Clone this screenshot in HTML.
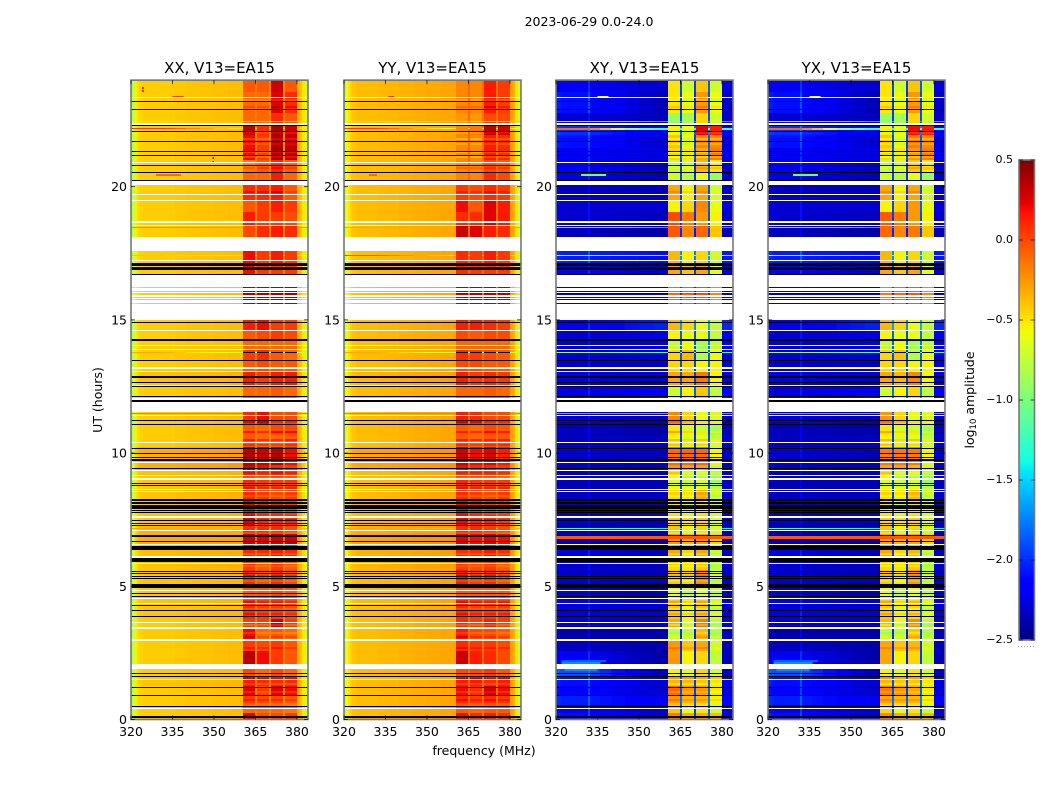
<!DOCTYPE html>
<html lang="en">
<head>
<meta charset="utf-8">
<title>2023-06-29 0.0-24.0</title>
<style>
html,body{margin:0;padding:0;background:#fff;}
svg{display:block;}
text{font-family:"DejaVu Sans","Liberation Sans",sans-serif;fill:#000;}
</style>
</head>
<body>
<svg id="figure" xmlns="http://www.w3.org/2000/svg" width="1050" height="800" viewBox="0 0 1050 800">
<rect x="0" y="0" width="1050" height="800" fill="#fff"/>
<text x="589" y="26" font-size="12.5" text-anchor="middle">2023-06-29 0.0-24.0</text>
<text x="0" y="0" font-size="12.5" text-anchor="middle" transform="translate(102,400) rotate(-90)">UT (hours)</text>
<text x="484" y="755" font-size="12.5" text-anchor="middle">frequency (MHz)</text>
<text x="0" y="0" font-size="12.5" text-anchor="middle" transform="translate(974,400) rotate(-90)">log<tspan font-size="8.5" dy="2">10</tspan><tspan dy="-2"> amplitude</tspan></text>
<g id="panels"></g>
<g id="colorbar"></g>
</svg>
<script>
// ---- axis data ----
const xTickValues = [320, 335, 350, 365, 380];
const yTickValues = [0, 5, 10, 15, 20];
const colorbarTickValues = [0.5, 0, -0.5, -1, -1.5, -2, -2.5];
const colorbarTickLabels = ["0.5", "0.0", "\u22120.5", "\u22121.0", "\u22121.5", "\u22122.0", "\u22122.5"];
const panelTitles = ["XX, V13=EA15", "YY, V13=EA15", "XY, V13=EA15", "YX, V13=EA15"];

// ---- frequency columns (MHz); slot 0 = background, 2-5 = receiver bands ----
const freqEdges = [320,320.7,321.4,322.2,323,324.5,331.5,332.2,336,340,345,350,355,360.6,365,365.6,369.9,370.6,375,375.7,380,381,382,383,384];
const colSlots = [0,0,0,0,0,0,0,0,0,0,0,0,0,2,0,3,0,4,0,5,0,0,0,0];
const colRightWeight = [0,0,0,0,0,0,0,0.1,0.25,0.45,0.65,0.85,1,0,1,0,1,0,1,0,1,1,1,1];

// ---- spectrum shape per polarisation (log10 amplitude) ----
const xxSpectrum = [-0.82,-0.65,-0.53,-0.47,-0.44,-0.42,-0.42,-0.42,-0.41,-0.4,-0.39,-0.38,-0.37,0,-0.15,0,-0.18,0,-0.18,0,-0.33,-0.38,-0.5,-0.74];
const yySpectrum = [-0.76,-0.6,-0.5,-0.44,-0.4,-0.37,-0.37,-0.36,-0.35,-0.34,-0.32,-0.31,-0.3,0,-0.1,0,-0.12,0,-0.12,0,-0.28,-0.33,-0.48,-0.7];
const xySpectrum = [-2.34,-2.34,-2.37,-2.39,-2.39,-2.39,-2.18,-2.39,-2.39,-2.39,-2.39,-2.39,-2.39,0,-2,0,-2.05,0,-1.95,0,-2.36,-2.36,-2.36,-2.36];
const yxSpectrum = [-2.34,-2.34,-2.37,-2.39,-2.39,-2.39,-2.18,-2.39,-2.39,-2.39,-2.39,-2.39,-2.39,0,-2,0,-2.05,0,-1.95,0,-2.36,-2.36,-2.36,-2.36];

// ---- time bins (UT hours) ----
const timeEdges = [0,0.26,0.53,0.9,1.24,1.65,1.99,2.59,2.97,3.42,3.79,4.47,5.03,5.6,6.08,6.54,6.99,7.29,7.66,8.23,8.6,8.98,9.35,9.54,10.22,10.67,11.08,11.91,12.54,13.03,13.48,13.86,14.23,14.61,14.99,16.23,16.71,17.13,17.58,18.1,18.55,19.04,19.49,20.06,20.54,21,21.45,21.93,22.31,22.76,23.55,24];

// ---- per-bin levels: [bgLeft, bgRight, band1, band2, band3, band4] ----
const xxLevels = [
[0,0,.25,0,0,.05],[0,0,-.1,-.1,-.1,-.15],[0,0,.05,0,0,-.05],[0,0,.25,.05,.25,.2],[.02,.02,.15,.1,.1,.1],[0,0,0,-.1,0,-.1],[0,0,.35,.2,.05,-.05],[0,0,.05,0,.05,-.05],[0,0,.2,-.1,-.05,-.1],[0,0,.05,.05,.3,.05],
[.02,.02,.1,.05,.05,0],[.02,.02,-.05,-.05,0,-.05],[.02,.02,.1,0,.1,0],[.03,.03,.05,-.05,.05,-.05],[.05,.05,.1,.1,.15,.1],[.1,.08,.3,.25,.3,.3],[.08,.05,.1,.1,.1,0],[.03,.03,.25,.1,.1,.1],[.03,.03,.2,.1,.1,.05],[.03,.03,.1,.05,0,.05],
[.02,.02,.1,.05,.05,.05],[.03,.03,.1,.05,.1,.05],[.1,.1,.3,.2,.1,.05],[.1,.1,.35,.3,.35,.2],[0,0,-.05,-.1,-.1,-.05],[0,0,-.05,-.1,0,0],[0,0,.1,.2,0,0],[0,0,-.1,-.1,-.05,-.1],[.03,.03,.15,.05,.15,.15],[0,0,-.05,0,-.05,-.05],
[0,0,.05,.1,-.05,-.1],[0,0,-.1,-.1,-.1,-.1],[0,0,-.05,0,.05,0],[0,0,.15,.2,.05,.05],[0,0,.38,.38,.38,.38],[0,0,.1,.1,.1,.1],[0,0,.2,.05,.05,.05],[0,0,.2,.05,.15,.05],[0,0,0,.05,.15,.05],[0,0,0,.1,.15,.1],
[0,0,.15,.05,.05,0],[0,0,-.05,.05,.15,.05],[0,0,.1,.1,.15,-.05],[0,0,-.1,-.1,.15,-.1],[0,0,-.15,-.05,.1,-.05],[0,0,.2,.05,.4,.35],[0,0,.2,.05,.4,.35],[0,0,.35,.1,.4,.3],[0,0,-.1,-.1,.1,-.05],[0,0,-.1,-.1,.25,.1],[0,0,-.05,-.05,.3,-.05]
];
const yyLevels = [
[0,0,.2,.1,.15,.1],[0,0,-.05,-.1,-.05,-.05],[0,0,.1,.05,.1,.05],[0,0,.2,.1,.3,.2],[0,0,.15,.15,.1,.15],[0,0,0,0,.05,-.05],[0,0,.3,.15,.1,0],[0,0,.1,.05,.05,0],[0,0,.15,0,0,-.05],[0,0,.1,.05,.15,.05],
[0,0,.1,.05,.05,.05],[0,0,-.05,-.05,-.05,-.05],[0,0,.15,.05,.1,0],[.02,.02,.05,0,.05,-.05],[.03,.03,.1,.1,.15,.1],[.08,.06,.25,.2,.25,.2],[.05,.03,.1,.1,.05,0],[.02,.02,.2,.1,.1,.05],[.02,.02,.2,.1,.05,.05],[0,0,.1,.05,0,.05],
[0,0,.1,.05,.05,.05],[0,0,.05,.05,.05,0],[.06,.05,.2,.1,.1,.05],[.08,.06,.3,.2,.25,.15],[0,0,-.05,-.1,-.05,-.05],[0,0,-.05,-.1,0,-.05],[0,0,.15,.1,0,0],[0,0,-.1,-.1,-.05,-.1],[.02,.02,.15,.05,.1,.05],[0,0,0,0,-.05,-.05],
[0,0,.1,.05,0,-.05],[0,0,-.1,-.1,-.1,-.1],[0,0,0,-.05,0,0],[0,0,.15,.15,.1,.05],[0,0,.35,.35,.35,.35],[0,0,.1,.1,.1,.1],[0,0,.1,.05,.05,.05],[0,0,.1,.05,.15,.05],[0,0,.1,.05,.15,.05],[0,0,.3,.25,.15,.1],
[0,0,.1,.1,.25,.15],[0,0,.2,-.05,.25,.15],[0,0,.05,0,.1,.05],[0,0,-.2,-.2,.1,0],[0,0,-.2,-.2,0,-.05],[0,0,-.2,-.2,.15,.1],[0,0,-.2,-.2,.15,.1],[0,0,-.2,-.15,.35,.3],[0,0,-.25,-.25,0,0],[0,0,-.2,-.2,.15,.05],[0,0,-.2,-.2,.15,.05]
];
const xyLevels = [
[.3,.1,-.15,-.3,-.3,-.35],[.25,.1,-.4,-.6,-.5,-.7],[.35,.2,-.25,-.35,-.35,-.55],[.25,.1,-.1,-.25,-.25,-.5],[.3,.1,-.35,-.35,-.4,-.5],[.5,.05,-.55,-.6,-.45,-.65],[.2,0,-.25,-.55,-.45,-.75],[.05,0,-.25,-.4,-.3,-.7],[0,0,-.75,-.75,-.35,-.8],[.1,.1,-.3,-.6,-.15,-.75],
[.15,.1,-.4,-.55,-.4,-.7],[.1,.05,-.6,-.75,-.6,-.75],[.1,.05,-.4,-.45,-.2,-.7],[.1,.05,-.45,-.5,-.4,-.75],[.15,.05,-.3,-.45,-.3,-.7],[.05,0,-.25,-.35,-.25,-.45],[0,0,-.4,-.55,-.45,-.65],[.1,.05,-.45,-.5,-.45,-.65],[.05,.05,-.5,-.7,-.5,-.7],[.05,.05,-.45,-.5,-.3,-.7],
[.05,.05,-.65,-.7,-.65,-.85],[.05,.05,-.5,-.7,-.7,-.8],[.1,.05,-.25,-.3,-.3,-.75],[.1,.05,-.1,-.1,-.1,-.55],[.05,.05,-.55,-.65,-.6,-.75],[.05,0,-.5,-.65,-.7,-.85],[.1,.05,-.2,-.45,-.6,-.65],[.15,.2,-.7,-.55,-.4,-.75],[.15,.1,-.3,-.3,-.15,-.55],[.1,.1,-.45,-.45,-.55,-.55],
[.1,.1,-.45,-.35,-.8,-.6],[.1,.15,-.75,-.6,-.85,-.75],[.1,.15,-.55,-.6,-.6,-.75],[.2,.35,-.35,-.45,-.6,-.75],[.05,.05,-.1,-.05,0,-.2],[.05,.05,-.3,-.3,-.3,-.3],[.2,.1,-.3,-.4,-.3,-.6],[.35,.3,-.35,-.55,-.45,-.7],[.2,.1,-.3,-.3,-.3,-.3],[.05,0,-.05,-.2,-.1,-.4],
[.1,.05,0,-.15,-.25,-.55],[.1,.1,-.55,-.45,-.2,-.6],[.05,.05,-.3,-.55,-.3,-.7],[.15,.05,-.7,-.8,-.6,-.9],[.2,.05,-.75,-.7,-.35,-.5],[.2,.15,-.45,-.5,-.3,-.15],[.3,.1,-.4,-.6,-.2,-.2],[.4,.2,-.55,-.6,.25,.15],[.1,.05,-.9,-.85,-.45,-.7],[.3,.05,-.5,-.6,-.25,-.6],[.2,.1,-.5,-.7,-.4,-.7]
];
const yxLevels = [
[.3,.1,-.2,-.3,-.35,-.35],[.25,.1,-.45,-.6,-.5,-.7],[.35,.2,-.3,-.35,-.35,-.55],[.25,.1,-.15,-.25,-.3,-.5],[.3,.1,-.35,-.4,-.4,-.5],[.5,.05,-.55,-.6,-.5,-.65],[.2,0,-.3,-.55,-.45,-.75],[.05,0,-.3,-.4,-.35,-.7],[0,0,-.75,-.75,-.4,-.8],[.1,.1,-.35,-.6,-.2,-.75],
[.15,.1,-.4,-.55,-.45,-.7],[.1,.05,-.6,-.75,-.6,-.75],[.1,.05,-.4,-.5,-.25,-.7],[.1,.05,-.45,-.5,-.4,-.75],[.15,.05,-.3,-.45,-.35,-.7],[.05,0,-.3,-.35,-.3,-.45],[0,0,-.4,-.55,-.45,-.65],[.1,.05,-.45,-.5,-.45,-.65],[.05,.05,-.5,-.7,-.5,-.7],[.05,.05,-.45,-.5,-.35,-.7],
[.05,.05,-.65,-.7,-.65,-.85],[.05,.05,-.5,-.7,-.7,-.8],[.1,.05,-.3,-.3,-.35,-.75],[.1,.05,-.15,-.15,-.15,-.55],[.05,.05,-.55,-.65,-.6,-.75],[.05,0,-.5,-.65,-.7,-.85],[.1,.05,-.25,-.45,-.6,-.65],[.15,.2,-.7,-.55,-.45,-.75],[.15,.1,-.3,-.35,-.2,-.55],[.1,.1,-.45,-.45,-.55,-.55],
[.1,.1,-.45,-.4,-.8,-.6],[.1,.15,-.75,-.6,-.85,-.75],[.1,.15,-.55,-.6,-.6,-.75],[.2,.35,-.35,-.45,-.6,-.75],[.05,.05,-.15,-.1,-.05,-.2],[.05,.05,-.3,-.3,-.3,-.3],[.2,.1,-.3,-.4,-.3,-.6],[.35,.3,-.35,-.55,-.45,-.7],[.2,.1,-.3,-.3,-.3,-.3],[.05,0,-.1,-.2,-.15,-.4],
[.1,.05,-.05,-.15,-.25,-.55],[.1,.1,-.55,-.45,-.25,-.6],[.05,.05,-.3,-.55,-.3,-.7],[.15,.05,-.7,-.8,-.6,-.9],[.2,.05,-.75,-.7,-.4,-.5],[.2,.15,-.45,-.5,-.25,-.15],[.3,.1,-.4,-.6,-.15,-.2],[.4,.2,-.55,-.6,.2,.15],[.1,.05,-.9,-.85,-.45,-.7],[.3,.05,-.5,-.6,-.25,-.6],[.2,.1,-.5,-.7,-.4,-.7]
];

// ---- fine stripes inside the receiver bands: [hour, level change] ----
const bandStripes = [[0.6,-.12],[0.75,.1],[1.05,-.1],[1.35,-.12],[1.55,.1],[2.7,.1],[3.1,.1],[3.25,-.1],[3.55,-.15],[3.95,.1],[4.15,-.1],[4.4,.1],[5.2,-.1],[5.4,.1],[5.75,-.1],[6.2,-.12],[7,-.1],[7.5,.1],[8.4,-.1],[8.7,.1],[9.1,-.1],[9.25,.1],[10.3,.15],[10.5,.2],[10.8,.2],[11.15,.12],[19.8,.1],[20.7,.1],[20.9,-.1],[21.1,-.15],[21.3,-.15],[21.6,-.12],[21.8,-.15],[22,-.1],[23,.1],[23.25,-.1]];

// ---- flagged integrations (UT hours): white = missing, black = flagged ----
const missingRows = [23.36,20.92,19.71,19.49,18.68,18.55,17.24,14.6,14.04,13.9,13.19,13.06,12.54,10.41,9.65,9.35,9.16,9.03,8.64,8.55,7.1,6.56,6.1,5.85,4.85,4.53,4.35,3.63,3.44,2.99,2.05,2,1.93,1.49,0.42];
const missingRanges = [[22.31,22.4],[20.06,20.22],[17.58,18.12],[16.24,16.69],[16.08,16.19],[16,16.03],[15.92,15.95],[15.86,15.88],[15.78,15.81],[15.64,15.74],[14.98,15.59],[12.01,12.06],[11.55,11.91],[11.38,11.44],[7.57,7.64]];
const flaggedRows = [23.2,22.9,22.29,22.08,21.7,21.32,21.17,20.8,20.53,20.24,16.71,14.9,14.28,14.23,13.78,13.47,12.89,12.85,12.66,12.51,11.22,11.07,10.17,9.98,9.84,9.77,9.72,9.44,8.85,8.8,8.16,8.12,7.85,7.77,7.47,7.35,7.29,6.67,5.57,5.49,5.37,5.3,4.72,4.63,4.27,4.09,3.88,1.72,1.63,1.21,0.89,0.51];
const flaggedRanges = [[17.03,17.12],[16.89,16.98],[12.11,12.15],[11.92,11.98],[8.22,8.29],[7.92,8.04],[6.86,6.91],[6.37,6.51],[5.91,6.07],[4.93,5.07],[0.06,0.14]];

// ---- interference rows: [hour, bgLeft value, bgRight value, band value or null] ----
const xxRfiRows = [[22.48,-0.6,-1,-1.2],[22.22,0.05,-0.5,null],[18.47,-0.2,-0.25,null],[17.45,-0.4,-0.6,null],[13.81,-0.3,-0.7,null],[11.52,-0.15,-0.15,null],[7.2,-0.3,-0.35,null]];
const yyRfiRows = [[22.48,-0.5,-1,-1.1],[22.22,0.05,-0.6,null],[18.47,-0.3,-0.3,null],[17.45,0,-0.5,null],[13.81,-0.3,-0.7,null],[11.52,-0.15,-0.15,null],[7.2,-0.3,-0.35,null]];
const xyRfiRows = [[22.48,-0.7,-1.6,null],[22.22,-0.1,-1.2,null],[22.18,-0.1,-1.2,null],[18.47,-1,-1.6,null],[17.45,-0.6,-0.7,null],[13.81,-0.9,-1.2,null],[11.52,-1.5,-1.5,null],[7.2,-1.2,-1.4,null],[6.89,-0.05,-0.05,-0.05],[6.85,-0.05,-0.05,-0.05],[6.81,-0.05,-0.05,-0.05]];
const yxRfiRows = [[22.48,-0.7,-1.6,null],[22.22,-0.1,-1.2,null],[22.18,-0.1,-1.2,null],[18.47,-1,-1.6,null],[17.45,-0.6,-0.7,null],[13.81,-0.9,-1.2,null],[11.52,-1.5,-1.5,null],[7.2,-1.2,-1.4,null],[6.89,-0.05,-0.05,-0.05],[6.85,-0.05,-0.05,-0.05],[6.81,-0.05,-0.05,-0.05]];

// ---- short narrowband streaks: [freq start, freq end, hour, value] ----
const xxSpots = [[335,339,23.37,0.05],[329,338,20.43,-0.1],[324,324.7,23.7,0.1],[324,324.7,23.6,0.1],[349.5,350,21.1,0.3],[349.5,350,20.95,0.3]];
const yySpots = [[336,338,23.37,0.1],[329,332,20.43,-0.1]];
const xySpots = [[335,339,23.37,-0.6],[329,338,20.43,-1.1],[347,349,15.7,-1.5],[322,338,2.2,-1.85],[322,336,2.12,-1.7],[323,335,1.85,-1.7],[324,332,1.78,-1.9]];
const yxSpots = [[335,339,23.37,-0.6],[329,338,20.43,-1.1],[347,349,15.7,-1.5],[322,338,2.2,-1.85],[322,336,2.12,-1.7],[323,335,1.85,-1.7],[324,332,1.78,-1.9]];

// ---- scales ----
const colorMin = -2.5, colorMax = 0.5;
const yBottom = 719.5, yPerHour = 26.64;
const panelLefts = [131, 344, 556, 768];
const panelWidth = 177;
const pxPerMHz = panelWidth / 64;
const NS = "http://www.w3.org/2000/svg";

function yAxis(h) { return yBottom - h * yPerHour; }
function xAxis(left, f) { return left + (f - 320) * pxPerMHz; }
function seg(t, a, b, c, d) {
  if (t <= a) return b;
  if (t >= c) return d;
  return b + (d - b) * (t - a) / (c - a);
}
function jet(v) {
  const t = Math.max(0, Math.min(1, (v - colorMin) / (colorMax - colorMin)));
  let r, g, b;
  r = t < 0.89 ? seg(t, 0.35, 0, 0.66, 1) : seg(t, 0.89, 1, 1, 0.5);
  g = t < 0.375 ? seg(t, 0.125, 0, 0.375, 1) : (t < 0.64 ? 1 : seg(t, 0.64, 1, 0.91, 0));
  b = t < 0.11 ? seg(t, 0, 0.5, 0.11, 1) : (t < 0.34 ? 1 : seg(t, 0.34, 1, 0.65, 0));
  return "rgb(" + Math.round(r * 255) + "," + Math.round(g * 255) + "," + Math.round(b * 255) + ")";
}
function make(tag, parent, attrs) {
  const el = document.createElementNS(NS, tag);
  for (const k in attrs) el.setAttribute(k, attrs[k]);
  parent.appendChild(el);
  return el;
}
function band(parent, left, h0, h1, fill) {
  const y0 = Math.round(yAxis(h1)), y1 = Math.round(yAxis(h0));
  return make("rect", parent, {x: left, y: y0, width: panelWidth, height: Math.max(1, y1 - y0), fill: fill, "shape-rendering": "crispEdges"});
}
function binOf(h) {
  for (let t = 0; t < timeEdges.length - 1; t++) {
    if (h < timeEdges[t + 1]) return t;
  }
  return timeEdges.length - 2;
}
function cellValue(spectrum, level, c) {
  const slot = colSlots[c];
  if (slot > 0) return spectrum[c] + level[slot];
  const w = colRightWeight[c];
  return spectrum[c] + level[0] * (1 - w) + level[1] * w;
}

const panelSpectra = [xxSpectrum, yySpectrum, xySpectrum, yxSpectrum];
const panelLevels = [xxLevels, yyLevels, xyLevels, yxLevels];
const panelRfi = [xxRfiRows, yyRfiRows, xyRfiRows, yxRfiRows];
const panelSpots = [xxSpots, yySpots, xySpots, yxSpots];
const panelKeys = ["xx", "yy", "xy", "yx"];
const root = document.getElementById("panels");

panelKeys.forEach(function (key, p) {
  const left = panelLefts[p];
  const g = make("g", root, {});
  
  

  const spectrum = panelSpectra[p];
  const levels = panelLevels[p];
  for (let t = 0; t < timeEdges.length - 1; t++) {
    const yTop = Math.round(yAxis(timeEdges[t + 1]));
    const yBot = Math.round(yAxis(timeEdges[t]));
    for (let c = 0; c < freqEdges.length - 1; c++) {
      const x0 = Math.round(xAxis(left, freqEdges[c]));
      const x1 = Math.round(xAxis(left, freqEdges[c + 1]));
      const value = cellValue(spectrum, levels[t], c);
      const cell = make("rect", g, {x: x0, y: yTop, width: x1 - x0, height: yBot - yTop, fill: jet(value), "shape-rendering": "crispEdges"});
      
      
    }
  }

  bandStripes.forEach(function (st) {
    const level = levels[binOf(st[0])];
    for (let c = 0; c < freqEdges.length - 1; c++) {
      if (colSlots[c] === 0) continue;
      const x0 = Math.round(xAxis(left, freqEdges[c]));
      const x1 = Math.round(xAxis(left, freqEdges[c + 1]));
      const r = make("rect", g, {x: x0, y: Math.round(yAxis(st[0])) - 1, width: x1 - x0, height: 2, fill: jet(level[colSlots[c]] + st[1]), "shape-rendering": "crispEdges"});
      
      
    }
  });

  panelSpots[p].forEach(function (s) {
    const x0 = xAxis(left, s[0]);
    const r = make("rect", g, {x: x0, y: Math.round(yAxis(s[2]) - 0.8), width: Math.max(1.2, xAxis(left, s[1]) - x0), height: 2, fill: jet(s[3]), "shape-rendering": "crispEdges"});
    
    
  });

  missingRows.forEach(function (h) {
    const r = band(g, left, h - 0.025, h + 0.025, "#fff");
    
    
  });
  missingRanges.forEach(function (rng) {
    const r = band(g, left, rng[0], rng[1], "#fff");
    
    
  });
  flaggedRows.forEach(function (h) {
    const r = band(g, left, h - 0.015, h + 0.015, "#000");
    
    
  });
  flaggedRanges.forEach(function (rng) {
    const r = band(g, left, rng[0], rng[1], "#000");
    
    
  });

  panelRfi[p].forEach(function (row) {
    for (let c = 0; c < freqEdges.length - 1; c++) {
      let v;
      if (colSlots[c] > 0) {
        v = row[3];
      } else {
        v = row[1] * (1 - colRightWeight[c]) + row[2] * colRightWeight[c];
      }
      if (v === null) continue;
      const x0 = Math.round(xAxis(left, freqEdges[c]));
      const x1 = Math.round(xAxis(left, freqEdges[c + 1]));
      const r = make("rect", g, {x: x0, y: Math.round(yAxis(row[0])), width: x1 - x0, height: 1, fill: jet(v), "shape-rendering": "crispEdges"});
      
      
    }
  });

  // spines
  const spine = make("rect", g, {x: left, y: yAxis(24), width: panelWidth, height: yAxis(0) - yAxis(24), fill: "none", stroke: "#777", "stroke-width": 1.6});
  
  

  // x ticks and labels
  xTickValues.forEach(function (f) {
    const x = xAxis(left, f);
    const t1 = make("line", g, {x1: x, x2: x, y1: yAxis(0), y2: yAxis(0) - 4, stroke: "#000", "stroke-width": 0.7});
    
    
    const t2 = make("line", g, {x1: x, x2: x, y1: yAxis(24), y2: yAxis(24) + 4, stroke: "#000", "stroke-width": 0.7});
    
    
    const lab = make("text", g, {x: x, y: 736, "font-size": 12.5, "text-anchor": "middle"});
    lab.textContent = String(f);
    
    
  });

  // y ticks and labels
  yTickValues.forEach(function (h) {
    const y = yAxis(h);
    const t1 = make("line", g, {x1: left, x2: left + 4, y1: y, y2: y, stroke: "#000", "stroke-width": 0.7});
    
    
    const t2 = make("line", g, {x1: left + panelWidth, x2: left + panelWidth - 4, y1: y, y2: y, stroke: "#000", "stroke-width": 0.7});
    
    
    const lab = make("text", g, {x: left - 4, y: y + 4.5, "font-size": 12.5, "text-anchor": "end"});
    lab.textContent = String(h);
    
    
  });

  const title = make("text", g, {x: left + panelWidth / 2, y: 73, "font-size": 15, "text-anchor": "middle"});
  title.textContent = panelTitles[p];
  
  
});

// ---- colorbar ----
const cb = document.getElementById("colorbar");
const cbX = 1019, cbW = 15.5, cbTop = 160, cbBottom = 640;
function cbY(v) { return cbBottom - (v - colorMin) / (colorMax - colorMin) * (cbBottom - cbTop); }
for (let i = 0; i < 240; i++) {
  const v0 = colorMin + (colorMax - colorMin) * i / 240;
  const v1 = colorMin + (colorMax - colorMin) * (i + 1) / 240;
  const s = make("rect", cb, {x: cbX, y: cbY(v1), width: cbW, height: cbY(v0) - cbY(v1) + 0.5, fill: jet((v0 + v1) / 2), "shape-rendering": "crispEdges"});
  
  
}
const cbFrame = make("rect", cb, {x: cbX, y: cbTop, width: cbW, height: cbBottom - cbTop, fill: "none", stroke: "#777", "stroke-width": 1.6});


colorbarTickValues.forEach(function (v, i) {
  const y = cbY(v);
  const a = make("line", cb, {x1: cbX, x2: cbX + 4, y1: y, y2: y, stroke: "#000", "stroke-width": 0.7});
  
  
  const b = make("line", cb, {x1: cbX + cbW, x2: cbX + cbW - 4, y1: y, y2: y, stroke: "#000", "stroke-width": 0.7});
  
  
  const lab = make("text", cb, {x: 1013, y: y + 3, "font-size": 11, "text-anchor": "end"});
  lab.textContent = colorbarTickLabels[i];
  
  
});
[0, 1, 2, 3, 4, 5].forEach(function (i) {
  const dot = make("rect", cb, {x: 1018 + i * 3, y: 646, width: 1, height: 1, fill: "#999"});
  
  
});
</script>
</body>
</html>
